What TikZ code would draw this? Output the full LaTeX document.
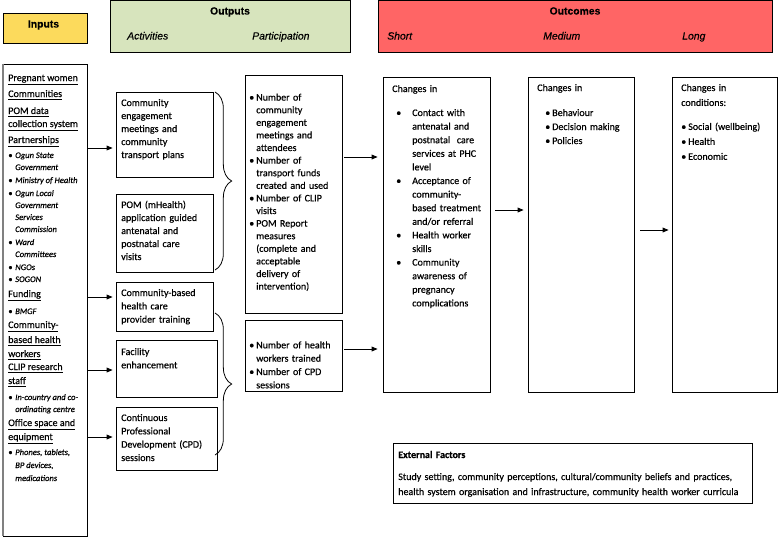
\documentclass[tikz,border=0pt]{standalone}
\usepackage{fontspec}
\setmainfont{Carlito}[FakeBold=0.45]
\newfontfamily\hdrfont{Liberation Sans}[FakeBold=0.3]
\usetikzlibrary{arrows.meta,decorations.pathreplacing,fit}
\definecolor{inyellow}{RGB}{252,218,92}
\definecolor{outgreen}{RGB}{215,228,189}
\definecolor{outred}{RGB}{255,101,101}
\newcommand\bitem[3]{\par\hangindent=#2\hangafter=1\noindent\hspace*{#1}\makebox[\dimexpr#2-#1\relax][l]{\textbullet}#3\par}
\newcommand\ibul{\makebox[5.25pt][l]{\textbullet}}
\begin{document}
\begin{tikzpicture}[x=0.75pt,y=-0.75pt,
  box/.style={draw=black,line width=0.6pt,inner sep=0pt},
  txt/.style={inner sep=0pt,anchor=base west,align=left,font=\fontsize{7.5}{10}\selectfont},
  itx/.style={inner sep=0pt,anchor=base west,font=\fontsize{6.4}{8}\selectfont\itshape},
  hdr/.style={inner sep=0pt,anchor=base,font=\hdrfont\fontsize{7.8}{9}\selectfont\bfseries},
  sub/.style={inner sep=0pt,anchor=base west,font=\hdrfont\fontsize{7.8}{9}\selectfont\itshape},
  arr/.style={line width=0.6pt,-{Triangle[length=4.5pt,width=3.6pt]}},
  brc/.style={line width=0.6pt,decorate,decoration={brace,amplitude=12.5pt}}]
\useasboundingbox (0,0) rectangle (778,537);
\fill[white] (0,0) rectangle (778,537);

% header bars
\node[box,fill=inyellow,fit={(3,13) (87,43)}] (inhead) {};
\node[hdr] (inlabel) at (43.5,27.5) {Inputs};
\node[box,fill=outgreen,fit={(110,0.5) (350,52)}] (outhead) {};
\node[hdr] (outlabel) at (230,14.5) {Outputs};
\node[sub] (actlabel) at (127,39.5) {Activities};
\node[sub] (parlabel) at (252,39.5) {Participation};
\node[box,fill=outred,fit={(378,0.5) (772,52)}] (ochead) {};
\node[hdr] (oclabel) at (575,14.5) {Outcomes};
\node[sub] (shlabel) at (387,39.5) {Short};
\node[sub] (melabel) at (543,39.5) {Medium};
\node[sub] (lolabel) at (682,39.5) {Long};

% inputs
\node[box,fit={(3,64) (87,536)}] (inp) {};
\draw[gray,line width=1.4pt] (inp.north west) -- (inp.south west);
\node[txt] (i1) at (8,81) {\underline{Pregnant women}};
\node[txt] (i2) at (8,97) {\underline{Communities}};
\node[txt] (i3) at (8,114) {\underline{POM data}};
\node[txt] (i4) at (8,127) {\underline{collection system}};
\node[txt] (i5) at (8,143) {\underline{Partnerships}};
\node[itx] (i6) at (8,158) {\ibul Ogun State};
\node[itx] (i7) at (15,170) {Government};
\node[itx] (i8) at (8,183) {\ibul Ministry of Health};
\node[itx] (i9) at (8,196) {\ibul Ogun Local};
\node[itx] (i10) at (15,208) {Government};
\node[itx] (i11) at (15,220) {Services};
\node[itx] (i12) at (15,232) {Commission};
\node[itx] (i13) at (8,245) {\ibul Ward};
\node[itx] (i14) at (15,257) {Committees};
\node[itx] (i15) at (8,270) {\ibul NGOs};
\node[itx] (i16) at (8,282) {\ibul SOGON};
\node[txt] (i17) at (8,297) {\underline{Funding}};
\node[itx] (i18) at (8,314) {\ibul BMGF};
\node[txt] (i19) at (8,328) {\underline{Community-}};
\node[txt] (i20) at (8,343) {\underline{based health}};
\node[txt] (i21) at (8,357) {\underline{workers}};
\node[txt] (i22) at (8,370) {\underline{CLIP research}};
\node[txt] (i23) at (8,384) {\underline{staff}};
\node[itx] (i24) at (8,400) {\ibul In-country and co-};
\node[itx] (i25) at (15,412) {ordinating centre};
\node[txt] (i26) at (8,426) {\underline{Office space and}};
\node[txt] (i27) at (8,440) {\underline{equipment}};
\node[itx] (i28) at (8,455) {\ibul Phones, tablets,};
\node[itx] (i29) at (15,468) {BP devices,};
\node[itx] (i30) at (15,481) {medications};

% activities
\node[box,fit={(116,92) (213,177)}] (a1) {};
\node[txt,text width=90pt,font=\fontsize{7.5}{9.75}\selectfont] (a1t) at (121,106) {Community\newline engagement\newline meetings and\newline community\newline transport plans};
\node[box,fit={(116,194) (213,272)}] (a2) {};
\node[txt,text width=90pt,font=\fontsize{7.5}{9.75}\selectfont] (a2t) at (121,208) {POM (mHealth)\newline application guided\newline antenatal and\newline postnatal care\newline visits};
\node[box,fit={(116,282) (213,331)}] (a3) {};
\node[txt,text width=90pt] (a3t) at (121,296) {Community-based\newline health care\newline provider training};
\node[box,fit={(116,340) (217,397)}] (a4) {};
\node[txt,text width=90pt] (a4t) at (121,355) {Facility\newline enhancement};
\node[box,fit={(116,407) (217,470)}] (a5) {};
\node[txt,text width=90pt] (a5t) at (121,421) {Continuous\newline Professional\newline Development (CPD)\newline sessions};

\draw[brc] (215,92) -- (215,270);
\draw[brc] (215,313) -- (215,455);

% participation
\node[box,fit={(245,75) (342,313)}] (p1) {};
\node[txt,text width=90pt,font=\fontsize{7.5}{9.45}\selectfont] (p1t) at (249,88) {%
\bitem{0pt}{5.25pt}{Number of\newline community\newline engagement\newline meetings and\newline attendees}%
\bitem{0pt}{5.25pt}{Number of\newline transport funds\newline created and used}%
\bitem{0pt}{5.25pt}{Number of CLIP\newline visits}%
\bitem{0pt}{5.25pt}{POM Report\newline measures\newline (complete and\newline acceptable\newline delivery of\newline intervention)}};
\node[box,fit={(245,320) (342,391)}] (p2) {};
\node[txt,text width=90pt] (p2t) at (249,335) {%
\bitem{0pt}{5.25pt}{Number of health\newline workers trained}%
\bitem{0pt}{5.25pt}{Number of CPD\newline sessions}};

% outcomes
\node[box,fit={(383,77) (490,392)}] (short) {};
\node[txt,text width=90pt,font=\fontsize{7.5}{10.2}\selectfont] (shortt) at (392,92) {Changes in\par\vspace{7.8pt}%
\bitem{3pt}{15pt}{Contact with\newline antenatal and\newline postnatal\ \ care\newline services at PHC\newline level}%
\bitem{3pt}{15pt}{Acceptance of\newline community-\newline based treatment\newline and/or referral}%
\bitem{3pt}{15pt}{Health worker\newline skills}%
\bitem{3pt}{15pt}{Community\newline awareness of\newline pregnancy\newline complications}};
\node[box,fit={(528,77) (634,392)}] (medium) {};
\node[txt,text width=90pt,font=\fontsize{7.5}{10.5}\selectfont] (mediumt) at (537,91) {Changes in\par\vspace{8.25pt}%
\bitem{6pt}{11.25pt}{Behaviour}%
\bitem{6pt}{11.25pt}{Decision making}%
\bitem{6pt}{11.25pt}{Policies}};
\node[box,fit={(672,77) (777,392)}] (long) {};
\node[txt,text width=90pt,font=\fontsize{7.5}{11.2}\selectfont] (longt) at (681,91) {Changes in\newline conditions:\par\vspace{6.8pt}%
\bitem{0pt}{5.25pt}{Social (wellbeing)}%
\bitem{0pt}{5.25pt}{Health}%
\bitem{0pt}{5.25pt}{Economic}};

% external factors
\node[box,fit={(393,443) (752,503)}] (ext) {};
\node[txt,text width=265pt,font=\fontsize{7.5}{11.25}\selectfont] (extt) at (398,458) {\textbf{External Factors}\par\vspace{5.25pt}%
Study setting, community perceptions, cultural/community beliefs and practices,\newline health system organisation and infrastructure, community health worker curricula};

% arrow heights
\coordinate (ya1) at (0,148);
\coordinate (ya3) at (0,297);
\coordinate (ya4) at (0,370);
\coordinate (ya5) at (0,437);
\coordinate (yp1) at (0,157);
\coordinate (yp2) at (0,349);
\coordinate (ysm) at (0,210);
\coordinate (yml) at (0,230);

\draw[arr,shorten >=2.25pt] (inp.east |- ya1) -- (a1.west |- ya1);
\draw[arr,shorten >=2.25pt] (inp.east |- ya3) -- (a3.west |- ya3);
\draw[arr,shorten >=2.25pt] (inp.east |- ya4) -- (a4.west |- ya4);
\draw[arr,shorten >=2.25pt] (inp.east |- ya5) -- (a5.west |- ya5);
\draw[arr,shorten <=1.5pt,shorten >=3.75pt] (p1.east |- yp1) -- (short.west |- yp1);
\draw[arr,shorten <=1.5pt,shorten >=3.75pt] (p2.east |- yp2) -- (short.west |- yp2);
\draw[arr,shorten <=3.75pt,shorten >=3pt] (short.east |- ysm) -- (medium.west |- ysm);
\draw[arr,shorten <=4.5pt,shorten >=2.25pt] (medium.east |- yml) -- (long.west |- yml);
\end{tikzpicture}
\end{document}
